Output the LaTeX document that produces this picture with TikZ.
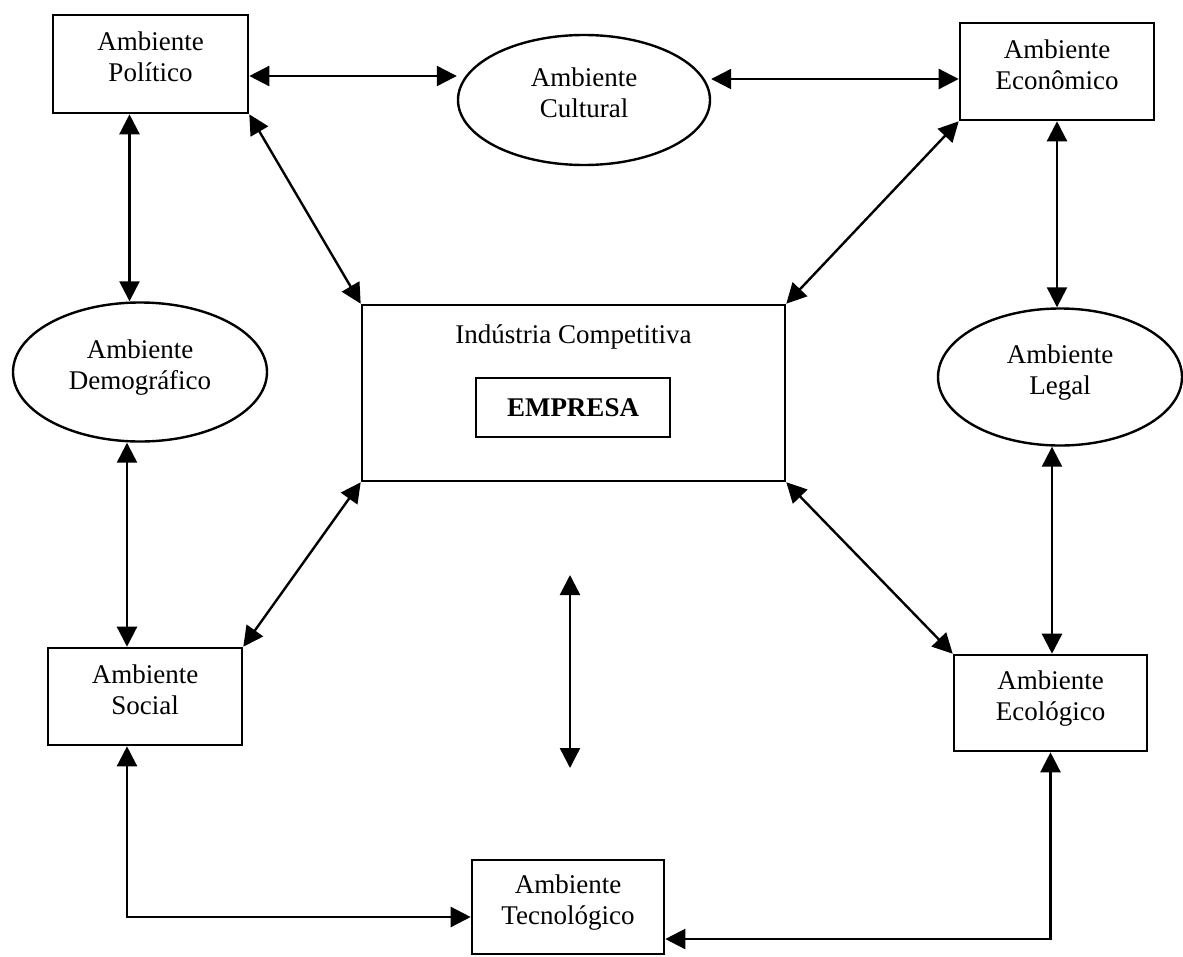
\documentclass[tikz,border=0pt]{standalone}
\usepackage{fontspec}
\setmainfont{Liberation Serif}
\usetikzlibrary{shapes.geometric,arrows.meta}

\begin{document}
\begin{tikzpicture}[x=1pt, y=-1pt,
  font=\fontsize{27}{31}\selectfont,
  box/.style={draw, line width=2.6pt, align=center, text depth=14pt, inner sep=0pt},
  oval/.style={draw, ellipse, line width=2.4pt, align=center, text depth=14pt, inner sep=0pt},
  dbl/.style={{Triangle[length=20pt,width=20pt]}-{Triangle[length=20pt,width=20pt]}, line width=2.4pt}]
  \useasboundingbox (0,0) rectangle (1183,956);
  % Top row
  \node[box, minimum width=195, minimum height=98] (pol) at (150.5,64) {Ambiente\\Político};
  \node[oval, minimum width=252, minimum height=130] (cul) at (584,100) {Ambiente\\Cultural};
  \node[box, minimum width=194, minimum height=97] (eco) at (1057,71.5) {Ambiente\\Econômico};
  % Middle row
  \node[oval, minimum width=254, minimum height=139] (dem) at (140,372) {Ambiente\\Demográfico};
  \node[draw, line width=2.6pt, minimum width=423, minimum height=176] (ind) at (573.5,393) {};
  \node[anchor=base] (indlab) at (573.5,343) {Indústria Competitiva};
  \node[draw, line width=2.6pt, minimum width=194, minimum height=59, font=\fontsize{27}{31}\selectfont\bfseries] (emp) at (573,407.5) {EMPRESA};
  \node[oval, minimum width=244, minimum height=137] (leg) at (1060,377) {Ambiente\\Legal};
  % Bottom row
  \node[box, minimum width=194, minimum height=97] (soc) at (145,696.5) {Ambiente\\Social};
  \node[box, minimum width=193, minimum height=96] (ecol) at (1050.5,703) {Ambiente\\Ecológico};
  \node[box, minimum width=192, minimum height=94] (tec) at (568,907) {Ambiente\\Tecnológico};
  % Free arrow below the industry
  \coordinate (ftop) at (570,575);
  \coordinate (fbot) at (570,768);
  % Horizontal links
  \draw[dbl] ([yshift=-12pt]pol.east) -- ([yshift=-12pt]pol.east -| cul.west);
  \draw[dbl] ([yshift=-7.5pt]eco.west -| cul.east) -- ([yshift=-7.5pt]eco.west);
  % Vertical links
  \draw[dbl] ([xshift=-21pt]pol.south) -- ([xshift=-21pt]pol.south |- dem.north);
  \draw[dbl] ([xshift=-13pt]dem.south) -- ([xshift=-13pt]dem.south |- soc.north);
  \draw[dbl] (eco.south) -- (eco.south |- leg.north);
  \draw[dbl] ([xshift=-8pt]leg.south) -- ([xshift=-8pt]leg.south |- ecol.north);
  % Diagonal links
  \draw[dbl] (pol.south east) -- (ind.north west);
  \draw[dbl] (eco.south west) -- (ind.north east);
  \draw[dbl] (ind.south west) -- (soc.north east);
  \draw[dbl] (ind.south east) -- (ecol.north west);
  % Elbow links
  \draw[dbl] ([xshift=-18pt]soc.south) |- ([yshift=-10pt]tec.west);
  \draw[dbl] (ecol.south) |- ([yshift=-32pt]tec.east);
  \draw[dbl] (ftop) -- (fbot);
\end{tikzpicture}
\end{document}
